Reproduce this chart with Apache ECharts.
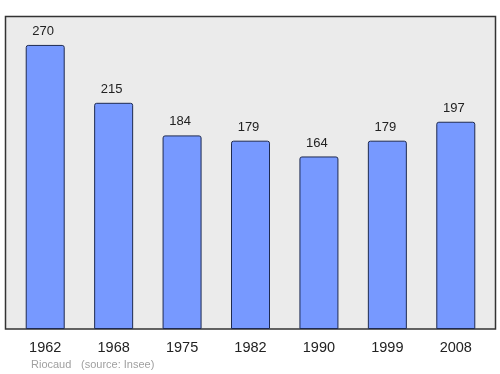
<!DOCTYPE html>
<html>
<head>
<meta charset="utf-8">
<script src="https://cdn.jsdelivr.net/npm/echarts@6/dist/echarts.min.js"></script>
<style>html,body{margin:0;padding:0;background:#fff;}#c{width:500px;height:374px;}</style>
</head>
<body>
<div id="c"></div>
<script>
var years = ['1962', '1968', '1975', '1982', '1990', '1999', '2008'];
var population = [270, 215, 184, 179, 164, 179, 197];
var placeName = 'Riocaud';
var sourceText = '(source: Insee)';

var chart = echarts.init(document.getElementById('c'), null, {renderer: 'canvas'});
chart.setOption({
  animation: false,
  backgroundColor: '#ffffff',
  grid: {left: 11, right: 10, top: 16, bottom: 45},
  graphic: [
    {type: 'rect', z: -1, shape: {x: 5.5, y: 16.5, width: 490, height: 312.5},
     style: {fill: '#ebebeb', stroke: '#333333', lineWidth: 1.5}},
    {type: 'text', left: 31, top: 359, style: {text: placeName, fill: '#a0a0a0', font: '11px "Liberation Sans", Arial, sans-serif'}},
    {type: 'text', left: 81, top: 359, style: {text: sourceText, fill: '#a0a0a0', font: '11px "Liberation Sans", Arial, sans-serif'}}
  ],
  xAxis: {
    type: 'category', data: years,
    axisLine: {show: false}, axisTick: {show: false},
    axisLabel: {margin: 11, fontSize: 14.5, color: '#222', fontFamily: '"Liberation Sans", Arial, sans-serif'}
  },
  yAxis: {
    type: 'value', min: 0, max: 297.5, show: false, splitLine: {show: false}
  },
  series: [{
    type: 'bar', data: population, barWidth: 39,
    itemStyle: {color: '#7799ff', borderColor: '#1e2a50', borderWidth: 1, borderRadius: [2, 2, 0, 0]},
    label: {show: true, position: 'top', distance: 7, offset: [-2, 0], fontSize: 13, color: '#222', fontFamily: '"Liberation Sans", Arial, sans-serif'}
  }]
});
</script>
</body>
</html>
